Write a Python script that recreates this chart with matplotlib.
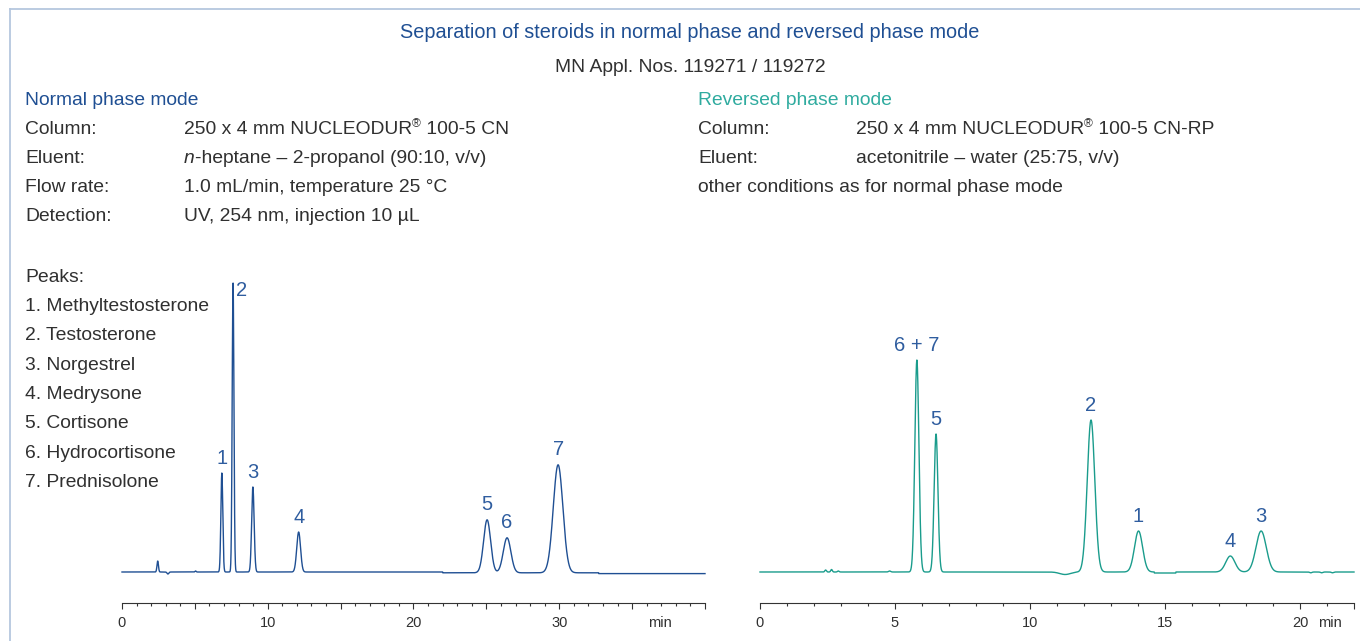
import numpy as np
import matplotlib.pyplot as plt
from matplotlib.ticker import MultipleLocator

plt.rcParams['font.family'] = ['Liberation Sans', 'DejaVu Sans']

BLUE = '#1f4f93'
LABEL_BLUE = '#2f5d9f'
TEAL = '#1a9c8c'
TEAL_TXT = '#2fab9f'
TXT = '#303030'
FS = 13.9

# normal phase peaks (min, relative height, width)
np_labels = ['1', '2', '3', '4', '5', '6', '7']
np_times = [6.85, 7.62, 8.98, 12.12, 25.05, 26.42, 29.92]
np_heights = [99, 289, 85, 40, 53, 35, 108]
np_sigmas = [0.065, 0.06, 0.085, 0.13, 0.24, 0.26, 0.33]
np_small_times = [2.45, 3.15, 5.05]
np_small_heights = [11, -2, 1]
np_small_sigmas = [0.05, 0.06, 0.04]
np_steps = [22.0, 32.7]
np_step_sizes = [-0.8, -0.8]

# reversed phase peaks
rp_labels = ['6 + 7', '5', '2', '1', '4', '3']
rp_times = [5.81, 6.52, 12.26, 14.02, 17.42, 18.56]
rp_heights = [212, 138, 152, 41, 16, 41]
rp_sigmas = [0.075, 0.07, 0.14, 0.15, 0.17, 0.19]
rp_small_times = [2.43, 2.65, 2.9, 4.8, 11.3, 20.4, 20.8, 21.2]
rp_small_heights = [2, 2.5, 1, 1, -2.5, -0.8, -0.8, -0.8]
rp_small_sigmas = [0.03, 0.03, 0.03, 0.04, 0.2, 0.04, 0.04, 0.04]
rp_steps = [14.6, 15.4]
rp_step_sizes = [-1.0, 1.0]

peak_names = ['1. Methyltestosterone', '2. Testosterone', '3. Norgestrel',
              '4. Medrysone', '5. Cortisone', '6. Hydrocortisone',
              '7. Prednisolone']


def trace(t, times, heights, sigmas, steps, step_sizes):
    y = np.zeros_like(t)
    for rt, h, s in zip(times, heights, sigmas):
        y += h * np.exp(-(t - rt) ** 2 / (2 * s ** 2))
    for st, sz in zip(steps, step_sizes):
        y += np.where(t > st, sz, 0)
    return y


W, H = 1360, 641
fig = plt.figure(figsize=(W / 100, H / 100), dpi=100)
renderer = fig.canvas.get_renderer()


def px(x, y):
    return x / W, 1 - y / H


def chain(x, y, parts):
    # text pieces side by side: 'n' normal, 'i' italic, 's' superscript
    for s, kind in parts:
        kw = dict(fontsize=FS, color=TXT, va='baseline', ha='left')
        yy = y
        if kind == 'i':
            kw['style'] = 'italic'
        if kind == 's':
            kw['fontsize'] = FS * 0.62
            yy = y - 7
        t = fig.text(*px(x, yy), s, **kw)
        x += t.get_window_extent(renderer).width


def axis_at(x0, x1, xmax):
    ax = fig.add_axes([x0 / W, (H - 603) / H, (x1 - x0) / W, 333 / H])
    ax.set_xlim(0, xmax)
    ax.set_ylim(-31, 302)
    for s in ['top', 'left', 'right']:
        ax.spines[s].set_visible(False)
    ax.spines['bottom'].set_color('#333333')
    ax.spines['bottom'].set_linewidth(0.8)
    ax.set_yticks([])
    ax.xaxis.set_minor_locator(MultipleLocator(1))
    ax.tick_params(axis='x', which='major', length=4.5, width=0.8, color='#333333',
                   labelsize=10.5, labelcolor=TXT, pad=5)
    ax.tick_params(axis='x', which='minor', length=2.5, width=0.8, color='#333333')
    ax.patch.set_alpha(0)
    return ax


# left chromatogram
ax1 = axis_at(122, 705, 40)
t1 = np.linspace(0, 40, 6000)
y1 = trace(t1, np_times + np_small_times, np_heights + np_small_heights,
           np_sigmas + np_small_sigmas, np_steps, np_step_sizes)
ax1.plot(t1, y1, color=BLUE, lw=1.0, clip_on=False)
ticks1 = list(range(0, 41, 5))
ax1.set_xticks(ticks1)
ax1.set_xticklabels([str(v) if v % 10 == 0 and v < 40 else '' for v in ticks1])
ax1.text(36.9, -51, 'min', ha='center', va='center', fontsize=10.5, color=TXT)
for lab, rt, h in zip(np_labels, np_times, np_heights):
    if lab == '2':
        ax1.text(rt + 0.2, h + 2, lab, ha='left', va='top', fontsize=14.5, color=LABEL_BLUE)
    else:
        ax1.text(rt, h + 5, lab, ha='center', va='bottom', fontsize=14.5, color=LABEL_BLUE)

# right chromatogram
ax2 = axis_at(760, 1354, 22)
t2 = np.linspace(0, 22, 6000)
y2 = trace(t2, rp_times + rp_small_times, rp_heights + rp_small_heights,
           rp_sigmas + rp_small_sigmas, rp_steps, rp_step_sizes)
ax2.plot(t2, y2, color=TEAL, lw=1.0, clip_on=False)
ticks2 = list(range(0, 21, 5)) + [22]
ax2.set_xticks(ticks2)
ax2.set_xticklabels([str(v) if v <= 20 else '' for v in ticks2])
ax2.text(21.1, -51, 'min', ha='center', va='center', fontsize=10.5, color=TXT)
for lab, rt, h in zip(rp_labels, rp_times, rp_heights):
    ax2.text(rt, h + 5, lab, ha='center', va='bottom', fontsize=14.5, color=LABEL_BLUE)

# header texts
fig.text(*px(690, 38), 'Separation of steroids in normal phase and reversed phase mode',
         ha='center', va='baseline', fontsize=14.3, color=BLUE)
fig.text(*px(690, 72), 'MN Appl. Nos. 119271 / 119272',
         ha='center', va='baseline', fontsize=FS, color=TXT)

fig.text(*px(25, 105), 'Normal phase mode', fontsize=FS, color=BLUE, va='baseline')
left_keys = ['Column:', 'Eluent:', 'Flow rate:', 'Detection:']
left_vals = [[('250 x 4 mm NUCLEODUR', 'n'), ('®', 's'), (' 100-5 CN', 'n')],
             [('n', 'i'), ('-heptane – 2-propanol (90:10, v/v)', 'n')],
             [('1.0 mL/min, temperature 25 °C', 'n')],
             [('UV, 254 nm, injection 10 µL', 'n')]]
for i, (k, v) in enumerate(zip(left_keys, left_vals)):
    yb = 134 + i * 29
    fig.text(*px(25, yb), k, fontsize=FS, color=TXT, va='baseline')
    chain(184, yb, v)

fig.text(*px(698, 105), 'Reversed phase mode', fontsize=FS, color=TEAL_TXT, va='baseline')
right_keys = ['Column:', 'Eluent:']
right_vals = [[('250 x 4 mm NUCLEODUR', 'n'), ('®', 's'), (' 100-5 CN-RP', 'n')],
              [('acetonitrile – water (25:75, v/v)', 'n')]]
for i, (k, v) in enumerate(zip(right_keys, right_vals)):
    yb = 134 + i * 29
    fig.text(*px(698, yb), k, fontsize=FS, color=TXT, va='baseline')
    chain(856, yb, v)
fig.text(*px(698, 192), 'other conditions as for normal phase mode',
         fontsize=FS, color=TXT, va='baseline')

fig.text(*px(25, 282), 'Peaks:', fontsize=FS, color=TXT, va='baseline')
for i, name in enumerate(peak_names):
    fig.text(*px(25, 311 + i * 29.3), name, fontsize=FS, color=TXT, va='baseline')

# frame lines
fig.add_artist(plt.Line2D([10 / W, 1], [1 - 9 / H, 1 - 9 / H], color='#b5c7de', lw=1.3))
fig.add_artist(plt.Line2D([10 / W, 10 / W], [0, 1 - 9 / H], color='#b5c7de', lw=1.3))

fig.savefig('out.png', dpi=100)
